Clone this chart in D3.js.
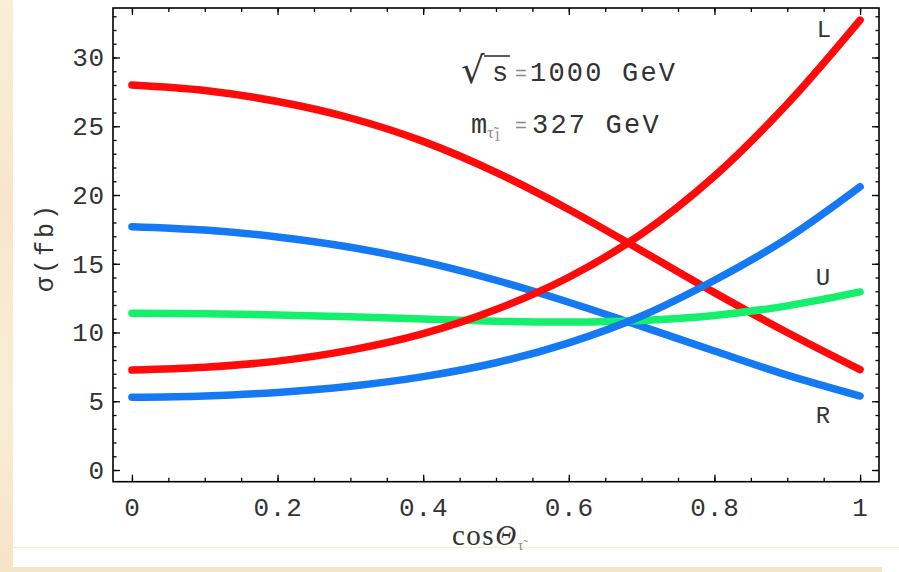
<!DOCTYPE html>
<html>
<head>
<meta charset="utf-8">
<script src="https://cdn.jsdelivr.net/npm/d3@7"></script>
<style>
  html, body { margin: 0; padding: 0; background: #f9ebd3; }
  svg { display: block; }
</style>
</head>
<body>
<svg id="chart" width="899" height="572"></svg>
<script>
// cos(theta) sample points
const cosTheta = [0, 0.1, 0.2, 0.3, 0.4, 0.5, 0.6, 0.7, 0.8, 0.9, 1.0];

// cross sections in fb
const sigmaRedL   = [7.27, 7.47, 7.92, 8.72, 9.92, 11.67, 14.02, 17.17, 21.37, 26.62, 32.72];
const sigmaRedR   = [28.0, 27.6, 26.8, 25.6, 23.9, 21.65, 18.95, 15.95, 12.9, 10.0, 7.3];
const sigmaBlueL  = [5.29, 5.39, 5.64, 6.09, 6.79, 7.8, 9.25, 11.2, 13.8, 16.85, 20.6];
const sigmaBlueR  = [17.7, 17.45, 16.95, 16.2, 15.15, 13.8, 12.2, 10.45, 8.65, 6.9, 5.38];
const sigmaGreenU = [11.4, 11.36, 11.28, 11.15, 10.98, 10.82, 10.76, 10.88, 11.24, 11.94, 12.95];

const xTicks = [0, 0.2, 0.4, 0.6, 0.8, 1];
const xTickLabels = ["0", "0.2", "0.4", "0.6", "0.8", "1"];
const yTicks = [0, 5, 10, 15, 20, 25, 30];
const yTickLabels = ["0", "5", "10", "15", "20", "25", "30"];

const seriesList = [
  { values: sigmaRedR,   color: "#ff0a0a" },
  { values: sigmaBlueR,  color: "#1479f2" },
  { values: sigmaGreenU, color: "#14f06c" },
  { values: sigmaRedL,   color: "#ff0a0a" },
  { values: sigmaBlueL,  color: "#1479f2" }
];

const svg = d3.select("#chart");
const W = 899, H = 572;

// page background: warm paper with a white sheet on top
const defs = svg.append("defs");
const grad = defs.append("linearGradient").attr("id", "paper")
  .attr("x1", 0).attr("y1", 0).attr("x2", 0).attr("y2", 1);
grad.append("stop").attr("offset", "0%").attr("stop-color", "#faeed8");
grad.append("stop").attr("offset", "35%").attr("stop-color", "#f7e6cb");
grad.append("stop").attr("offset", "70%").attr("stop-color", "#faecd5");
grad.append("stop").attr("offset", "100%").attr("stop-color", "#f6e4c8");
svg.append("rect").attr("width", W).attr("height", H).attr("fill", "url(#paper)");
svg.append("rect").attr("x", 13).attr("y", 0).attr("width", W - 13).attr("height", 567).attr("fill", "#ffffff");
svg.append("rect").attr("x", 882).attr("y", 567).attr("width", W - 882).attr("height", 5).attr("fill", "#ffffff");
svg.append("line").attr("x1", 13).attr("x2", W).attr("y1", 547.5).attr("y2", 547.5)
  .attr("stroke", "#f6ebd9").attr("stroke-width", 1);

// plot frame
const frame = { left: 113, right: 879, top: 8, bottom: 481.7 };
const x = d3.scaleLinear().domain([-0.026, 1.026]).range([frame.left, frame.right]);
const y = d3.scaleLinear().domain([-0.85, 33.6]).range([frame.bottom, frame.top]);

const monoFont = "'Liberation Mono', 'DejaVu Sans Mono', monospace";
const serifFont = "'Liberation Serif', 'DejaVu Serif', serif";
const inkColor = "#333333";

// curves
const line = d3.line()
  .x((d, i) => x(cosTheta[i]))
  .y(d => y(d))
  .curve(d3.curveCatmullRom.alpha(0.5));

svg.append("g").selectAll("path").data(seriesList).join("path")
  .attr("d", s => line(s.values))
  .attr("fill", "none")
  .attr("stroke", s => s.color)
  .attr("stroke-width", 7.5)
  .attr("stroke-linecap", "round")
  .attr("stroke-linejoin", "round");

// axes with mirrored ticks on all four sides
function styleAxis(g) {
  g.select(".domain").remove();
  g.selectAll(".tick line").attr("stroke", "#000").attr("stroke-width", 1.3);
}
const xMinor = d3.range(0, 1.0001, 0.05);
const yMinor = d3.range(0, 33.5, 1);

svg.append("g").attr("transform", `translate(0,${frame.bottom})`)
  .call(d3.axisBottom(x).tickValues(xMinor).tickSize(-4).tickFormat(""))
  .call(styleAxis);
svg.append("g").attr("transform", `translate(0,${frame.bottom})`)
  .call(d3.axisBottom(x).tickValues(xTicks).tickSize(-7).tickPadding(16)
    .tickFormat((d, i) => xTickLabels[i]))
  .call(styleAxis)
  .call(g => g.selectAll("text").attr("font-family", monoFont).attr("font-size", 26)
    .attr("fill", inkColor).attr("letter-spacing", 0.8));

svg.append("g").attr("transform", `translate(0,${frame.top})`)
  .call(d3.axisTop(x).tickValues(xMinor).tickSize(-4).tickFormat(""))
  .call(styleAxis);
svg.append("g").attr("transform", `translate(0,${frame.top})`)
  .call(d3.axisTop(x).tickValues(xTicks).tickSize(-7).tickFormat(""))
  .call(styleAxis);

svg.append("g").attr("transform", `translate(${frame.left},0)`)
  .call(d3.axisLeft(y).tickValues(yMinor).tickSize(-3.5).tickFormat(""))
  .call(styleAxis);
svg.append("g").attr("transform", `translate(${frame.left},0)`)
  .call(d3.axisLeft(y).tickValues(yTicks).tickSize(-7).tickPadding(8)
    .tickFormat((d, i) => yTickLabels[i]))
  .call(styleAxis)
  .call(g => g.selectAll("text").attr("font-family", monoFont).attr("font-size", 26)
    .attr("fill", inkColor).attr("letter-spacing", 0.8));

svg.append("g").attr("transform", `translate(${frame.right},0)`)
  .call(d3.axisRight(y).tickValues(yMinor).tickSize(-3.5).tickFormat(""))
  .call(styleAxis);
svg.append("g").attr("transform", `translate(${frame.right},0)`)
  .call(d3.axisRight(y).tickValues(yTicks).tickSize(-7).tickFormat(""))
  .call(styleAxis);

svg.append("rect")
  .attr("x", frame.left).attr("y", frame.top)
  .attr("width", frame.right - frame.left).attr("height", frame.bottom - frame.top)
  .attr("fill", "none").attr("stroke", "#000").attr("stroke-width", 1.6);

// axis titles
svg.append("text")
  .attr("transform", `translate(53,247) rotate(-90)`)
  .attr("text-anchor", "middle")
  .attr("font-family", monoFont).attr("font-size", 25).attr("fill", inkColor)
  .attr("letter-spacing", 3)
  .text("σ(fb)");

const xt = svg.append("text")
  .attr("x", 452).attr("y", 545)
  .attr("font-family", serifFont).attr("font-size", 29).attr("fill", inkColor)
  .attr("letter-spacing", 1.5);
xt.append("tspan").text("cos");
xt.append("tspan").attr("font-style", "italic").text("Θ");
xt.append("tspan").attr("font-size", 14).attr("dy", 5).attr("fill", "#888").text("τ̃");

// annotations
const annSize = 27;
svg.append("text").attr("x", 461).attr("y", 83)
  .attr("font-family", "'DejaVu Sans', sans-serif").attr("font-size", 37).attr("fill", inkColor)
  .text("√");
svg.append("line").attr("x1", 484).attr("x2", 510).attr("y1", 56).attr("y2", 56)
  .attr("stroke", inkColor).attr("stroke-width", 1.6);
svg.append("text").attr("x", 492).attr("y", 81)
  .attr("font-family", monoFont).attr("font-size", annSize).attr("fill", inkColor)
  .text("s");
svg.append("text").attr("x", 515).attr("y", 80)
  .attr("font-family", monoFont).attr("font-size", 20).attr("fill", "#888")
  .text("=");
svg.append("text").attr("x", 530).attr("y", 81)
  .attr("font-family", monoFont).attr("font-size", annSize).attr("fill", inkColor)
  .attr("letter-spacing", 2.2).text("1000 GeV");

const ann2 = svg.append("text").attr("x", 471).attr("y", 133)
  .attr("font-family", monoFont).attr("font-size", annSize).attr("fill", inkColor);
ann2.append("tspan").text("m");
ann2.append("tspan").attr("font-family", serifFont).attr("font-size", 16).attr("fill", "#888").attr("dy", 5).text("τ̃");
ann2.append("tspan").attr("font-family", serifFont).attr("font-size", 14).attr("fill", "#888").attr("dy", 3).text("1");
svg.append("text").attr("x", 515).attr("y", 132)
  .attr("font-family", monoFont).attr("font-size", 20).attr("fill", "#888")
  .text("=");
svg.append("text").attr("x", 532).attr("y", 133)
  .attr("font-family", monoFont).attr("font-size", annSize).attr("fill", inkColor)
  .attr("letter-spacing", 2.2).text("327 GeV");

// curve labels
const curveLabels = [
  { text: "L", x: 824, y: 37 },
  { text: "U", x: 823, y: 285 },
  { text: "R", x: 823, y: 423 }
];
svg.append("g").selectAll("text").data(curveLabels).join("text")
  .attr("x", d => d.x).attr("y", d => d.y)
  .attr("text-anchor", "middle")
  .attr("font-family", monoFont).attr("font-size", 24).attr("fill", inkColor)
  .text(d => d.text);
</script>
</body>
</html>
